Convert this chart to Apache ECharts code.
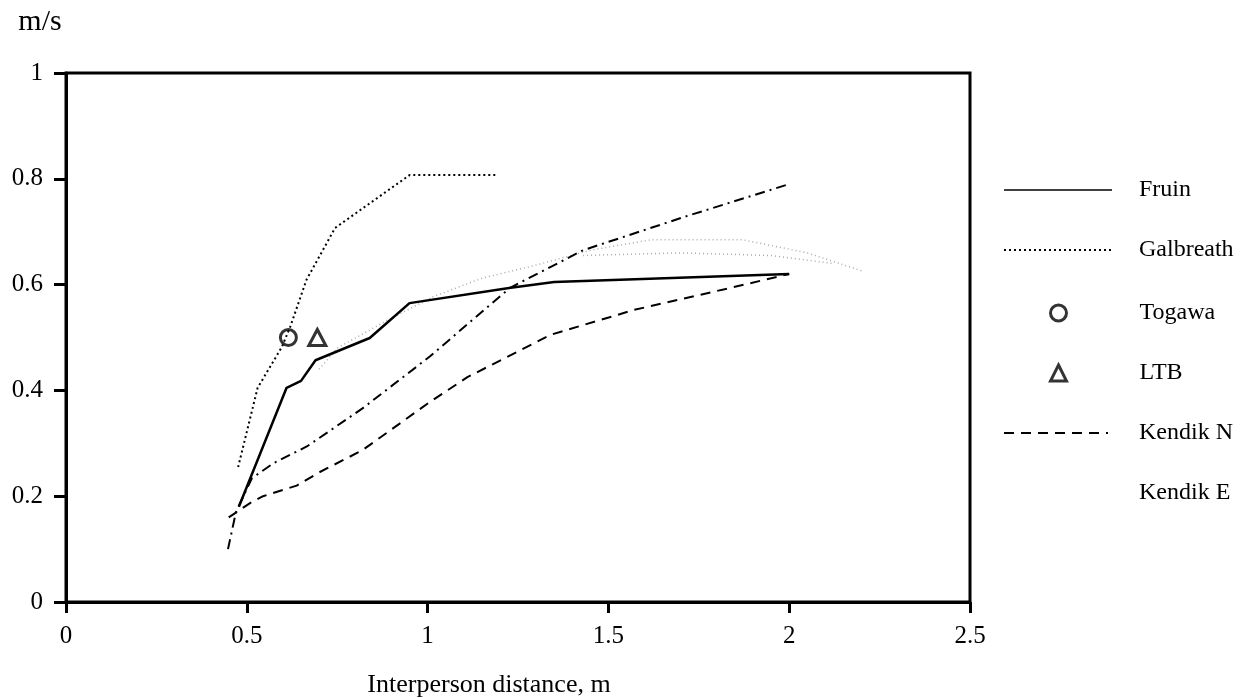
<!DOCTYPE html>
<html>
<head>
<meta charset="utf-8">
<script src="https://cdn.jsdelivr.net/npm/echarts@6/dist/echarts.min.js"></script>
<style>
html,body{margin:0;padding:0;background:#fff;}
#chart{width:1257px;height:698px;}
</style>
</head>
<body>
<div id="chart"></div>
<script>
// Data
var xTicks = [0, 0.5, 1, 1.5, 2, 2.5];
var yTicks = [0, 0.2, 0.4, 0.6, 0.8, 1];

var fruin = [[0.478,0.18],[0.61,0.405],[0.65,0.418],[0.69,0.457],[0.84,0.499],[0.95,0.565],[1.23,0.594],[1.35,0.605],[2.0,0.62]];
var galbreath = [[0.476,0.255],[0.53,0.405],[0.597,0.482],[0.62,0.52],[0.665,0.609],[0.744,0.707],[0.95,0.807],[1.19,0.807]];
var togawa = [[0.615,0.50]];
var ltb = [[0.695,0.50]];
var kendikN = [[0.45,0.16],[0.509,0.187],[0.545,0.20],[0.638,0.22],[0.70,0.245],[0.82,0.287],[1.006,0.378],[1.11,0.425],[1.34,0.505],[1.57,0.552],[1.845,0.595],[2.0,0.62]];
var kendikE = [[0.448,0.10],[0.47,0.17],[0.514,0.234],[0.573,0.262],[0.666,0.294],[0.82,0.366],[1.006,0.464],[1.228,0.594],[1.43,0.665],[1.71,0.728],[2.0,0.79]];
// faint grey dotted trace visible in the scan (no legend entry)
var faintUpper = [[0.70,0.44],[0.75,0.48],[0.89,0.533],[1.015,0.577],[1.15,0.612],[1.29,0.635],[1.45,0.665],[1.62,0.685],[1.87,0.685],[2.05,0.66],[2.2,0.626]];
var faintLower = [[1.43,0.655],[1.7,0.66],[1.95,0.655],[2.12,0.64]];

var serif = '"Liberation Serif","DejaVu Serif",serif';
var hidden = {opacity:0};
var boldMarker = {color:'#fff',borderColor:'#000',borderWidth:3};
var chart = echarts.init(document.getElementById('chart'), null, {renderer:'canvas'});
chart.setOption({
  animation:false,
  backgroundColor:'#fff',
  textStyle:{fontFamily:serif,color:'#000'},
  grid:{left:66,right:287,top:73,bottom:96,containLabel:false,outerBoundsMode:'none',
    show:true,borderColor:'#000',borderWidth:3,backgroundColor:'transparent'},
  xAxis:{
    type:'value',min:0,max:2.5,interval:0.5,
    name:'Interperson distance, m',nameLocation:'middle',nameGap:70,
    nameTextStyle:{fontFamily:serif,fontSize:26,color:'#000',padding:[0,58,0,0]},
    axisLine:{show:true,lineStyle:{color:'#000',width:3}},
    axisTick:{show:true,inside:false,length:11,lineStyle:{color:'#000',width:3}},
    axisLabel:{fontFamily:serif,fontSize:25,color:'#000',margin:22,
      formatter:function(v){return String(v);}},
    splitLine:{show:false}
  },
  yAxis:{
    type:'value',min:0,max:1,interval:0.2,
    name:'m/s',nameLocation:'end',nameGap:36,
    nameTextStyle:{fontFamily:serif,fontSize:30,color:'#000',align:'center',padding:[0,52,0,0]},
    axisLine:{show:true,lineStyle:{color:'#000',width:3}},
    axisTick:{show:true,inside:false,length:12,lineStyle:{color:'#000',width:3}},
    axisLabel:{fontFamily:serif,fontSize:25,color:'#000',margin:23,
      formatter:function(v){return String(Math.round(v*10)/10);}},
    splitLine:{show:false}
  },
  legend:[
    {
      orient:'vertical',left:998,top:173,
      itemWidth:108,itemHeight:20,itemGap:36,
      textStyle:{fontFamily:serif,fontSize:24,color:'#000',padding:[0,0,0,22]},
      data:[{name:'Fruin',itemStyle:hidden,lineStyle:{width:1.5}},{name:'Galbreath',itemStyle:hidden}]
    },
    {
      orient:'vertical',left:1044,top:296,
      itemWidth:16,itemHeight:16,itemGap:36,
      textStyle:{fontFamily:serif,fontSize:24,color:'#000',padding:[0,0,0,68]},
      data:[{name:'Togawa',itemStyle:boldMarker},{name:'LTB',itemStyle:boldMarker}]
    },
    {
      orient:'vertical',left:998,top:416,
      itemWidth:104,itemHeight:20,itemGap:36,
      textStyle:{fontFamily:serif,fontSize:24,color:'#000',padding:[0,0,0,26]},
      data:[{name:'Kendik N',itemStyle:hidden},{name:'Kendik E',lineStyle:hidden,itemStyle:hidden}]
    }
  ],
  series:[
    {name:'faint1',type:'line',data:faintUpper,symbol:'none',silent:true,
      lineStyle:{color:'#aaa',width:1.5,type:[1,3]},z:1},
    {name:'faint2',type:'line',data:faintLower,symbol:'none',silent:true,
      lineStyle:{color:'#aaa',width:1.5,type:[1,3]},z:1},
    {name:'Fruin',type:'line',data:fruin,symbol:'none',
      lineStyle:{color:'#000',width:2.5,type:'solid'},itemStyle:{color:'#000'}},
    {name:'Galbreath',type:'line',data:galbreath,symbol:'none',
      lineStyle:{color:'#000',width:2,type:[2,3]},itemStyle:{color:'#000'}},
    {name:'Togawa',type:'scatter',data:togawa,symbol:'circle',symbolSize:16,
      itemStyle:boldMarker},
    {name:'LTB',type:'scatter',data:ltb,symbol:'triangle',symbolSize:[17,16],
      itemStyle:boldMarker},
    {name:'Kendik N',type:'line',data:kendikN,symbol:'none',
      lineStyle:{color:'#000',width:2,type:[10,7]},itemStyle:{color:'#000'}},
    {name:'Kendik E',type:'line',data:kendikE,symbol:'none',
      lineStyle:{color:'#000',width:2,type:[10,5,2,5]},itemStyle:{color:'#000'}}
  ]
});
</script>
</body>
</html>
